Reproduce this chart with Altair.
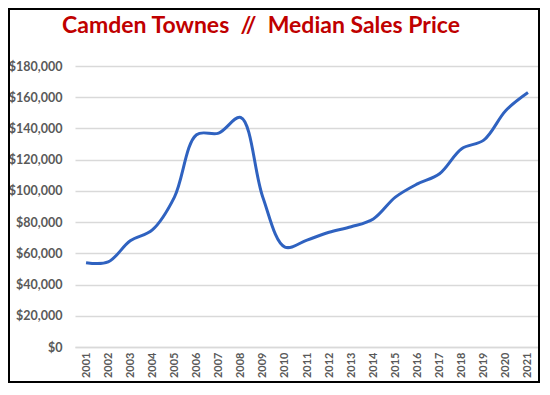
import altair as alt
import pandas as pd

years = [str(y) for y in range(2001, 2022)]
prices = [54000, 54500, 68000, 75000, 96000, 136000, 137000, 147000, 96000, 64000,
          68500, 73500, 77000, 82000, 96000, 104500, 111000, 127000, 132500, 151500, 163000]
y_ticks = [0, 20000, 40000, 60000, 80000, 100000, 120000, 140000, 160000, 180000]
title_text = "Camden Townes\u00a0\u00a0//\u00a0\u00a0Median Sales Price"

df = pd.DataFrame({"Year": years, "Price": prices})
one = pd.DataFrame({"t": [title_text]})

PW, PH = 464, 281
PAD = {"left": 67, "top": 58, "right": 1, "bottom": 36}

line = alt.Chart(df).mark_line(
    color="#2F62C0", strokeWidth=3, interpolate="catmull-rom"
).encode(
    x=alt.X("Year:N", sort=years,
            scale=alt.Scale(type="point", padding=0.5),
            axis=alt.Axis(title=None, labelAngle=270, labelFont="Lato", labelFontSize=11,
                          labelFontWeight="bold", labelColor="#595959", ticks=False,
                          domain=True, domainColor="#D9D9D9", domainWidth=1.5,
                          grid=False, labelPadding=5)),
    y=alt.Y("Price:Q", scale=alt.Scale(domain=[0, 180000], nice=False),
            axis=alt.Axis(title=None, values=y_ticks, format="$,.0f", labelFont="Lato",
                          labelFontSize=12.5, labelFontWeight="bold", labelColor="#595959",
                          ticks=False, domain=False, gridColor="#D9D9D9", gridWidth=1.5,
                          labelPadding=13)),
)

title = alt.Chart(one).mark_text(
    font="Lato", fontSize=23, fontWeight="bold", color="#C00000",
    align="center", baseline="middle"
).encode(
    text="t:N",
    x=alt.value(186),
    y=alt.value(-40),
)

border = alt.Chart(one).mark_rect(
    filled=False, stroke="black", strokeWidth=2
).encode(
    x=alt.value(-PAD["left"] + 1),
    x2=alt.value(PW + PAD["right"] - 1),
    y=alt.value(-PAD["top"] + 1),
    y2=alt.value(PH + PAD["bottom"] - 1),
)

chart = alt.layer(line, title, border).properties(
    width=PW, height=PH, padding=PAD,
    autosize=alt.AutoSizeParams(type="none"),
    background="white",
).configure_view(stroke=None)

chart.save("out.html", embed_options={"renderer": "svg", "actions": False})
